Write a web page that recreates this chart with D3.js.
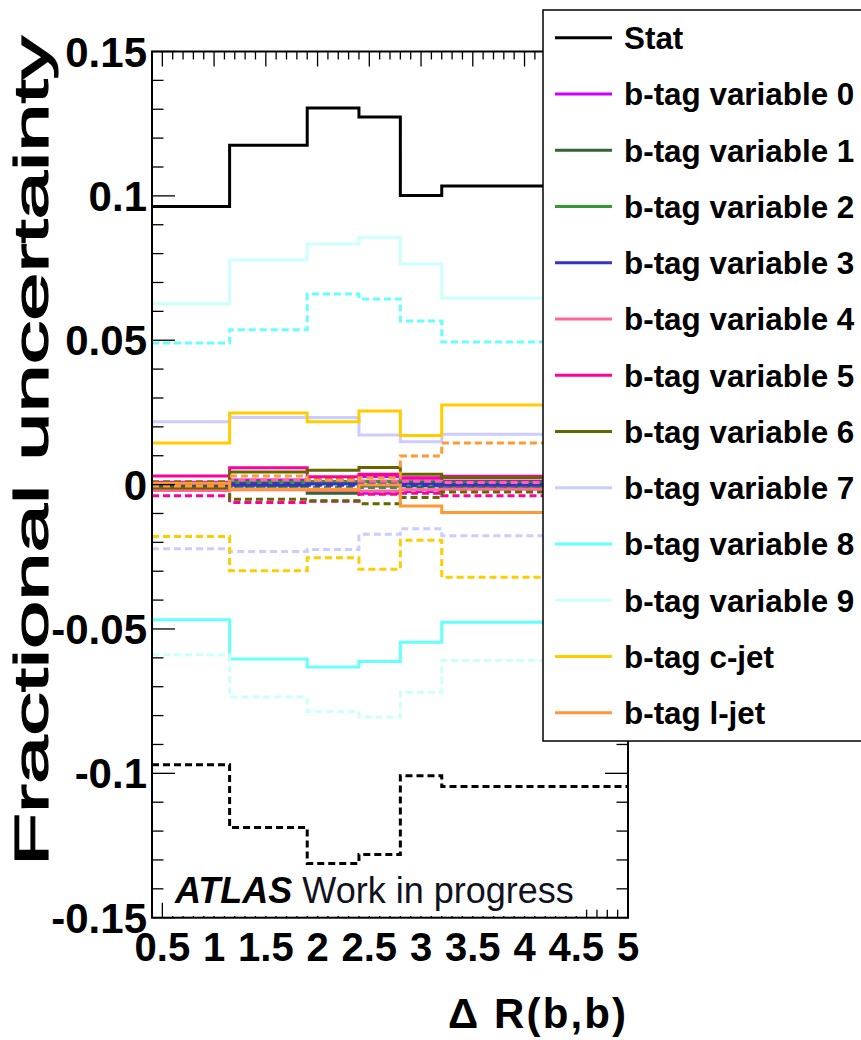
<!DOCTYPE html>
<html><head><meta charset="utf-8">
<script src="https://cdn.jsdelivr.net/npm/d3@7"></script>
<style>
html,body{margin:0;padding:0;background:#fff;}
svg{display:block;}
text{font-family:"Liberation Sans",Arial,Helvetica,sans-serif;}
</style></head>
<body>
<svg id="c" width="861" height="1040"></svg>
<script>
// ---------------- data ----------------
const binEdges = [0.4, 1.15, 1.9, 2.4, 2.8, 3.2, 5.0];
const seriesNames = ["Stat","b-tag variable 0","b-tag variable 1","b-tag variable 2","b-tag variable 3",
  "b-tag variable 4","b-tag variable 5","b-tag variable 6","b-tag variable 7","b-tag variable 8",
  "b-tag variable 9","b-tag c-jet","b-tag l-jet"];
const seriesColors = ["#000000","#cc00ff","#336633","#339933","#3333cc","#ff6699","#ff0099",
  "#666600","#ccccff","#66ffff","#ccffff","#ffcc00","#ff9933"];

const statUp   = [0.0963, 0.1175, 0.1304, 0.1273, 0.1001, 0.1034];
const statDown = [-0.0970, -0.1188, -0.1312, -0.1281, -0.1008, -0.1046];
const var0Up   = [0.0008, 0.0016, 0.0010, 0.0028, 0.0022, 0.0012];
const var0Down = [-0.0008, -0.0016, -0.0010, -0.0030, -0.0024, -0.0012];
const var1Up   = [-0.0013, 0.0010, -0.0030, -0.0005, 0.0010, 0.0008];
const var1Down = [0.0010, -0.0010, 0.0018, 0.0008, -0.0008, -0.0006];
const var2Up   = [-0.0005, 0.0008, 0.0010, 0.0012, 0.0005, 0.0005];
const var2Down = [0.0004, -0.0008, -0.0010, -0.0010, -0.0005, -0.0004];
const var3Up   = [-0.0002, -0.0002, 0.0002, -0.0003, 0.0003, 0.0000];
const var3Down = [0.0001, 0.0003, -0.0002, 0.0003, -0.0003, -0.0001];
const var4Up   = [-0.0020, -0.0018, -0.0020, -0.0022, -0.0018, -0.0016];
const var4Down = [0.0010, 0.0016, 0.0015, 0.0012, 0.0012, 0.0007];
const var5Up   = [0.0030, 0.0058, 0.0027, 0.0036, 0.0024, 0.0029];
const var5Down = [-0.0039, -0.0062, -0.0058, -0.0033, -0.0030, -0.0039];
const var6Up   = [-0.0012, 0.0044, 0.0050, 0.0059, 0.0036, 0.0024];
const var6Down = [0.0008, -0.0051, -0.0056, -0.0066, -0.0045, -0.0026];
const var7Up   = [0.0218, 0.0232, 0.0232, 0.0172, 0.0148, 0.0174];
const var7Down = [-0.0222, -0.0232, -0.0225, -0.0172, -0.0153, -0.0177];
const var8Up   = [-0.0468, -0.0604, -0.0632, -0.0613, -0.0546, -0.0477];
const var8Down = [0.0490, 0.0536, 0.0660, 0.0643, 0.0567, 0.0494];
const var9Up   = [0.0626, 0.0778, 0.0833, 0.0857, 0.0764, 0.0646];
const var9Down = [-0.0589, -0.0736, -0.0786, -0.0805, -0.0719, -0.0609];
const cjetUp   = [0.0144, 0.0248, 0.0218, 0.0255, 0.0170, 0.0276];
const cjetDown = [-0.0180, -0.0298, -0.0253, -0.0293, -0.0193, -0.0321];
const ljetUp   = [0.0005, -0.0016, -0.0016, -0.0001, -0.0074, -0.0097];
const ljetDown = [-0.0005, 0.0030, 0.0016, 0.0024, 0.0099, 0.0144];

const upValues = [statUp,var0Up,var1Up,var2Up,var3Up,var4Up,var5Up,var6Up,var7Up,var8Up,var9Up,cjetUp,ljetUp];
const downValues = [statDown,var0Down,var1Down,var2Down,var3Down,var4Down,var5Down,var6Down,var7Down,var8Down,var9Down,cjetDown,ljetDown];

const xTickLabels = ["0.5","1","1.5","2","2.5","3","3.5","4","4.5","5"];
const xTickValues = [0.5,1,1.5,2,2.5,3,3.5,4,4.5,5];
const yTickLabels = ["0.15","0.1","0.05","0","-0.05","-0.1","-0.15"];
const yTickValues = [0.15,0.1,0.05,0,-0.05,-0.1,-0.15];

// ---------------- layout ----------------
const L = 152, R = 628, T = 51.5, B = 917.7;
const svg = d3.select("#c");
const x = d3.scaleLinear().domain([0.4, 5.0]).range([L, R]);
const y = d3.scaleLinear().domain([-0.15, 0.15]).range([B, T]);

const line = d3.line().x(d => x(d[0])).y(d => y(d[1])).curve(d3.curveStepAfter);
function pts(vals){
  const p = vals.map((v,i) => [binEdges[i], v]);
  p.push([binEdges[binEdges.length-1], vals[vals.length-1]]);
  return p;
}

// histograms
const gH = svg.append("g");
seriesNames.forEach((n, i) => {
  gH.append("path").attr("d", line(pts(upValues[i])))
    .attr("fill","none").attr("stroke",seriesColors[i]).attr("stroke-width",3);
  gH.append("path").attr("d", line(pts(downValues[i])))
    .attr("fill","none").attr("stroke",seriesColors[i]).attr("stroke-width",3)
    .attr("stroke-dasharray","7,4");
});

// frame and ticks
const gA = svg.append("g").attr("stroke","#000").attr("fill","none");
gA.append("rect").attr("x",L).attr("y",T).attr("width",R-L).attr("height",B-T).attr("stroke-width",2);
const xMinor = d3.range(4, 51).map(k => k/10);
xMinor.forEach(v => {
  const major = Math.abs(v*2 - Math.round(v*2)) < 1e-6;
  const len = major ? 15 : 8;
  gA.append("line").attr("x1",x(v)).attr("x2",x(v)).attr("y1",B).attr("y2",B-len).attr("stroke-width",1.3);
  gA.append("line").attr("x1",x(v)).attr("x2",x(v)).attr("y1",T).attr("y2",T+len).attr("stroke-width",1.3);
});
const yMinor = d3.range(-15, 16).map(k => k/100);
yMinor.forEach(v => {
  const major = Math.abs(v*20 - Math.round(v*20)) < 1e-6;
  const len = major ? 23 : 11.5;
  gA.append("line").attr("x1",L).attr("x2",L+len).attr("y1",y(v)).attr("y2",y(v)).attr("stroke-width",1.3);
  gA.append("line").attr("x1",R).attr("x2",R-len).attr("y1",y(v)).attr("y2",y(v)).attr("stroke-width",1.3);
});

// tick labels
const gT = svg.append("g").attr("font-weight","bold").attr("fill","#000");
xTickValues.forEach((v,i) => {
  gT.append("text").attr("x",x(v)).attr("y",961).attr("text-anchor","middle")
    .attr("font-size",40).text(xTickLabels[i]);
});
yTickValues.forEach((v,i) => {
  gT.append("text").attr("x",147).attr("y",y(v)+15).attr("text-anchor","end")
    .attr("font-size",42).text(yTickLabels[i]);
});

// axis titles
svg.append("text").attr("transform","translate(48,866) rotate(-90)")
  .attr("font-size",48).attr("font-weight","normal")
  .attr("textLength",830).attr("lengthAdjust","spacingAndGlyphs")
  .attr("stroke","#000").attr("stroke-width",1.2)
  .text("Fractional uncertainty");
svg.append("text").attr("x",626).attr("y",1028).attr("text-anchor","end")
  .attr("font-size",42).attr("font-weight","bold")
  .attr("textLength",178).attr("lengthAdjust","spacing")
  .text("\u0394 R(b,b)");

// ATLAS label
svg.append("rect").attr("x",165).attr("y",866).attr("width",420).attr("height",50).attr("fill","#fff");
const atl = svg.append("text").attr("x",175).attr("y",903).attr("font-size",36);
atl.append("tspan").attr("font-weight","bold").attr("font-style","italic").attr("fill","#000").text("ATLAS");
atl.append("tspan").attr("fill","#111122").text(" Work in progress");

// legend
const gL = svg.append("g");
gL.append("rect").attr("x",543).attr("y",10).attr("width",330).attr("height",731)
  .attr("fill","#fff").attr("stroke","#000").attr("stroke-width",1.5);
seriesNames.forEach((n,i) => {
  const yy = 37.7 + 56.25*i;
  gL.append("line").attr("x1",555).attr("x2",612).attr("y1",yy).attr("y2",yy)
    .attr("stroke",seriesColors[i]).attr("stroke-width",3);
  gL.append("text").attr("x",624).attr("y",yy+11.5).attr("font-size",31.4).attr("font-weight","bold")
    .attr("fill","#000").text(n);
});
</script>
</body></html>
